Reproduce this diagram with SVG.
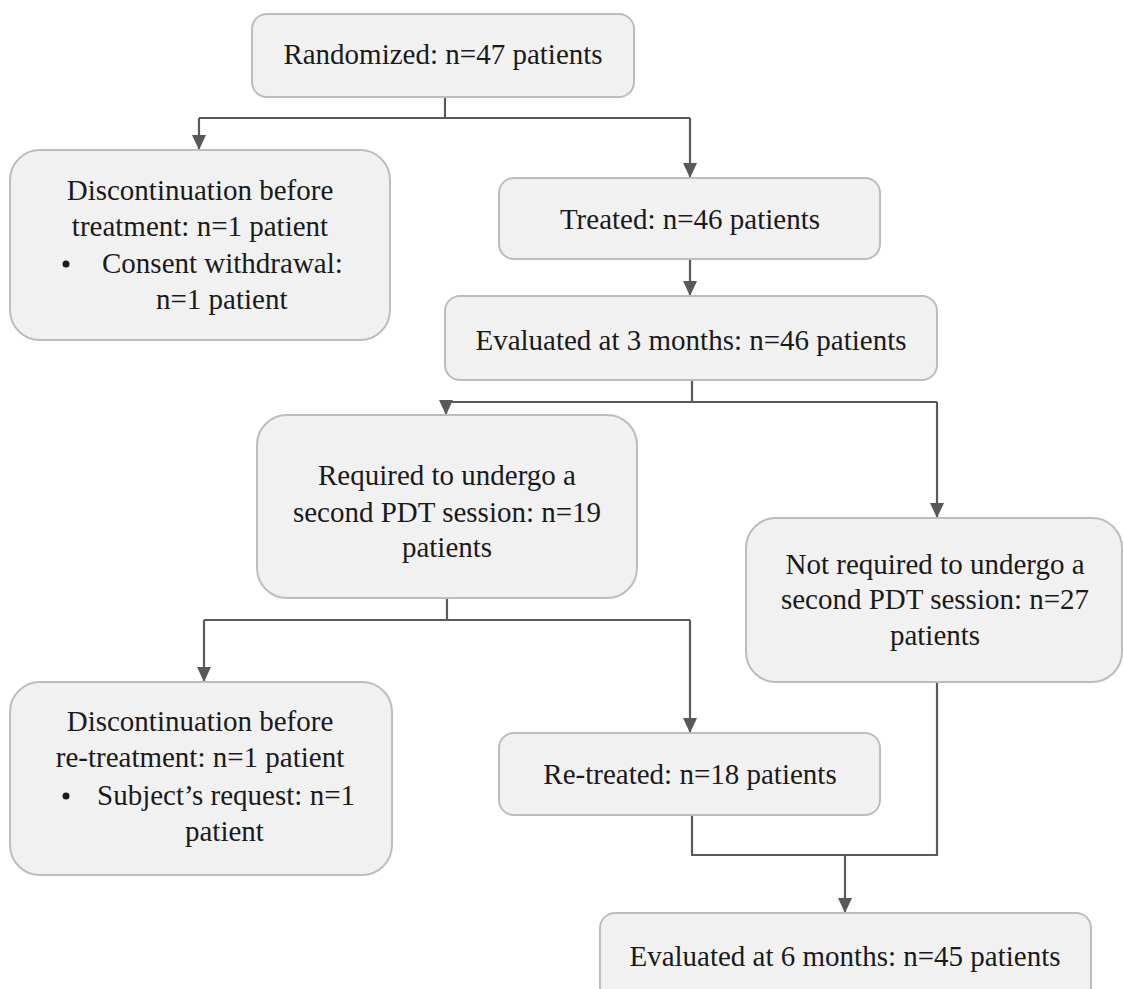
<svg xmlns="http://www.w3.org/2000/svg" width="1123" height="989" viewBox="0 0 1123 989">
<style>
.box{fill:#f1f1f1;stroke:#bdbdbd;stroke-width:2}
.t{font-family:"Liberation Serif","Times New Roman",serif;font-size:29px;fill:#1a1a1a}
.c{text-anchor:middle}
.ln{fill:none;stroke:#595959;stroke-width:2.2}
</style>
<defs>
<marker id="ah" markerUnits="userSpaceOnUse" markerWidth="14" markerHeight="16" viewBox="0 0 14 16" refX="7" refY="15" orient="auto-start-reverse">
<path d="M0,0 L14,0 L7,15 Z" fill="#595959" transform="rotate(0)"/>
</marker>
<marker id="ad" markerUnits="userSpaceOnUse" markerWidth="14" markerHeight="15" viewBox="0 0 14 15" refX="7" refY="15" orient="0">
<path d="M0,0 L14,0 L7,15 Z" fill="#595959"/>
</marker>
</defs>
<rect width="1123" height="989" fill="#ffffff"/>
<g id="connectors">
<path class="ln" d="M445,97 V118 M199,118 H690"/>
<path class="ln" d="M199,118 V150" marker-end="url(#ad)"/>
<path class="ln" d="M690,118 V178" marker-end="url(#ad)"/>
<path class="ln" d="M690,259 V296" marker-end="url(#ad)"/>
<path class="ln" d="M692,380 V402 M446,402 H937"/>
<path class="ln" d="M446,402 V415" marker-end="url(#ad)"/>
<path class="ln" d="M937,402 V518" marker-end="url(#ad)"/>
<path class="ln" d="M447,598 V620 M204,620 H690"/>
<path class="ln" d="M204,620 V682" marker-end="url(#ad)"/>
<path class="ln" d="M690,620 V733" marker-end="url(#ad)"/>
<path class="ln" d="M692,816 V855 H937 V682"/>
<path class="ln" d="M845,855 V913" marker-end="url(#ad)"/>
</g>
<g id="n-randomized">
<rect class="box" x="252" y="14" width="382" height="83" rx="15"/>
<text class="t c" x="443" y="64">Randomized: n=47 patients</text>
</g>
<g id="n-disc1">
<rect class="box" x="10" y="150" width="380" height="190" rx="30"/>
<text class="t c" x="200" y="200">Discontinuation before</text>
<text class="t c" x="200" y="236">treatment: n=1 patient</text>
<circle cx="66" cy="264" r="3.5" fill="#1a1a1a"/>
<text class="t" x="102" y="273">Consent withdrawal:</text>
<text class="t" x="156" y="309">n=1 patient</text>
</g>
<g id="n-treated">
<rect class="box" x="499" y="178" width="381" height="81" rx="15"/>
<text class="t c" x="690" y="229">Treated: n=46 patients</text>
</g>
<g id="n-eval3">
<rect class="box" x="445" y="296" width="492" height="84" rx="15"/>
<text class="t c" x="691" y="350">Evaluated at 3 months: n=46 patients</text>
</g>
<g id="n-required">
<rect class="box" x="257" y="415" width="380" height="183" rx="30"/>
<text class="t c" x="447" y="485">Required to undergo a</text>
<text class="t c" x="447" y="522">second PDT session: n=19</text>
<text class="t c" x="447" y="557">patients</text>
</g>
<g id="n-notrequired">
<rect class="box" x="746" y="518" width="376" height="164" rx="30"/>
<text class="t c" x="935" y="574">Not required to undergo a</text>
<text class="t c" x="935" y="609">second PDT session: n=27</text>
<text class="t c" x="935" y="645">patients</text>
</g>
<g id="n-disc2">
<rect class="box" x="10" y="682" width="382" height="193" rx="30"/>
<text class="t c" x="200" y="731">Discontinuation before</text>
<text class="t c" x="200" y="767">re-treatment: n=1 patient</text>
<circle cx="66" cy="796" r="3.5" fill="#1a1a1a"/>
<text class="t" x="97" y="805">Subject’s request: n=1</text>
<text class="t" x="185" y="841">patient</text>
</g>
<g id="n-retreated">
<rect class="box" x="499" y="733" width="381" height="82" rx="15"/>
<text class="t c" x="690" y="784">Re-treated: n=18 patients</text>
</g>
<g id="n-eval6">
<rect class="box" x="600" y="913" width="491" height="100" rx="15"/>
<text class="t c" x="845" y="966">Evaluated at 6 months: n=45 patients</text>
</g>
</svg>
